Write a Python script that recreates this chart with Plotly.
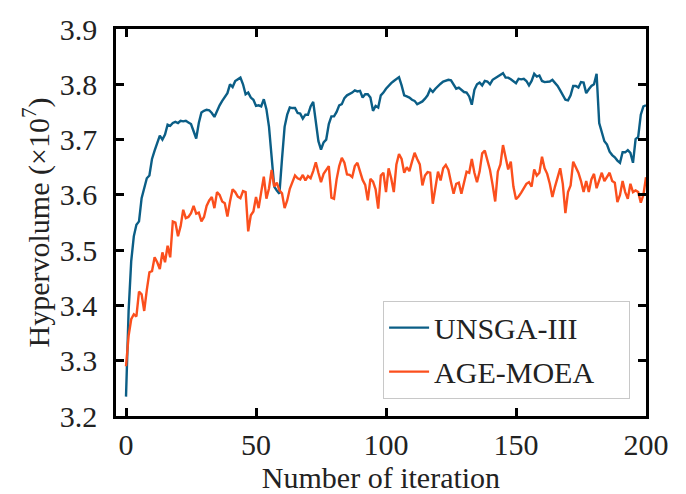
import plotly.graph_objects as go

iterations = list(range(201))

unsga3 = [
    3.235, 3.39, 3.48, 3.525, 3.546, 3.552, 3.594, 3.61, 3.63, 3.635,
    3.665, 3.68, 3.693, 3.707, 3.70, 3.709, 3.727, 3.725, 3.73, 3.732,
    3.73, 3.734, 3.733, 3.734, 3.731, 3.728, 3.715, 3.702, 3.73, 3.749,
    3.752, 3.754, 3.753, 3.748, 3.741, 3.752, 3.762, 3.770, 3.776, 3.784,
    3.800, 3.795, 3.806, 3.809, 3.812, 3.800, 3.782, 3.785, 3.776, 3.772,
    3.761, 3.762, 3.760, 3.773, 3.755, 3.723, 3.675, 3.615, 3.608, 3.602,
    3.665, 3.723, 3.745, 3.758, 3.757, 3.757, 3.748, 3.747, 3.738, 3.745,
    3.745, 3.760, 3.768, 3.735, 3.697, 3.682, 3.695, 3.700, 3.728, 3.742,
    3.742, 3.750, 3.762, 3.764, 3.775, 3.780, 3.782, 3.785, 3.789, 3.787,
    3.788, 3.776, 3.782, 3.782, 3.776, 3.752, 3.761, 3.758, 3.780, 3.785,
    3.792, 3.798, 3.802, 3.806, 3.810, 3.813, 3.798, 3.780, 3.778, 3.776,
    3.772, 3.770, 3.764, 3.767, 3.769, 3.774, 3.780, 3.791, 3.786, 3.792,
    3.797, 3.801, 3.805, 3.806, 3.808, 3.807, 3.800, 3.792, 3.794, 3.790,
    3.786, 3.785, 3.778, 3.763, 3.790, 3.800, 3.803, 3.798, 3.806, 3.805,
    3.800, 3.808, 3.811, 3.814, 3.816, 3.820, 3.812, 3.812, 3.809, 3.806,
    3.802, 3.810, 3.809, 3.810, 3.806, 3.798, 3.806, 3.819, 3.814, 3.816,
    3.806, 3.804, 3.805, 3.805, 3.808, 3.803, 3.797, 3.789, 3.780, 3.772,
    3.771, 3.780, 3.797, 3.797, 3.794, 3.804, 3.803, 3.784, 3.791, 3.797,
    3.800, 3.819, 3.730, 3.712, 3.697, 3.691, 3.678, 3.672, 3.668, 3.662,
    3.658, 3.677, 3.677, 3.681, 3.676, 3.658, 3.701, 3.705, 3.745, 3.760,
    3.762,
]

agemoea = [
    3.29, 3.345, 3.375, 3.384, 3.38, 3.425, 3.42, 3.39, 3.428, 3.46,
    3.462, 3.487, 3.478, 3.466, 3.496, 3.478, 3.508, 3.487, 3.552, 3.55,
    3.525, 3.543, 3.573, 3.558, 3.56, 3.567, 3.58, 3.566, 3.568, 3.552,
    3.56, 3.58, 3.59, 3.596, 3.576, 3.605, 3.600, 3.588, 3.585, 3.561,
    3.588, 3.610, 3.605, 3.597, 3.594, 3.607, 3.605, 3.534, 3.563, 3.570,
    3.596, 3.576, 3.605, 3.633, 3.593, 3.612, 3.645, 3.615, 3.622, 3.608,
    3.603, 3.576, 3.590, 3.611, 3.623, 3.635, 3.630, 3.628, 3.636, 3.626,
    3.634, 3.630, 3.643, 3.659, 3.640, 3.623, 3.638, 3.645, 3.652, 3.595,
    3.593, 3.628, 3.652, 3.667, 3.658, 3.637, 3.636, 3.632, 3.652, 3.658,
    3.642, 3.627, 3.618, 3.590, 3.629, 3.624, 3.610, 3.575, 3.635, 3.640,
    3.605, 3.648, 3.630, 3.605, 3.655, 3.674, 3.665, 3.640, 3.650, 3.643,
    3.660, 3.676, 3.665, 3.655, 3.617, 3.635, 3.641, 3.640, 3.584, 3.610,
    3.642, 3.626, 3.648, 3.654, 3.645, 3.623, 3.602, 3.620, 3.622, 3.602,
    3.625, 3.642, 3.640, 3.665, 3.640, 3.623, 3.642, 3.675, 3.680, 3.662,
    3.645, 3.618, 3.588, 3.642, 3.655, 3.690, 3.665, 3.646, 3.660, 3.615,
    3.592, 3.597, 3.604, 3.612, 3.620, 3.623, 3.615, 3.646, 3.635, 3.640,
    3.669, 3.648, 3.638, 3.620, 3.596, 3.615, 3.634, 3.648, 3.620, 3.567,
    3.605, 3.617, 3.660, 3.650, 3.640, 3.625, 3.605, 3.625, 3.605, 3.628,
    3.638, 3.612, 3.625, 3.640, 3.625, 3.632, 3.640, 3.625, 3.622, 3.587,
    3.600, 3.625, 3.605, 3.593, 3.620, 3.605, 3.608, 3.605, 3.586, 3.600,
    3.632,
]

series_names = ["UNSGA-III", "AGE-MOEA"]
x_ticks = [0, 50, 100, 150, 200]
y_ticks = [3.2, 3.3, 3.4, 3.5, 3.6, 3.7, 3.8, 3.9]

FONT = "Liberation Serif"
PAD = "\u00a0" * 4

fig = go.Figure()
fig.add_trace(go.Scatter(x=iterations, y=unsga3, mode="lines", name=series_names[0] + PAD,
                         line=dict(color="#0b5e86", width=2.4), legendgroup="a"))
fig.add_trace(go.Scatter(x=iterations, y=agemoea, mode="lines", name=series_names[1] + PAD,
                         line=dict(color="#fb4f1d", width=2.4), legendgroup="b"))

axis_common = dict(
    showline=True, linecolor="black", linewidth=2.5, mirror="ticks",
    ticks="inside", ticklen=8, tickwidth=2.5, tickcolor="black",
    showgrid=False, zeroline=False,
    tickfont=dict(family=FONT, size=30, color="#222"),
    title_font=dict(family=FONT, size=30, color="#222"),
)

fig.update_xaxes(range=[-3.85, 200], tickvals=x_ticks, ticktext=[str(v) for v in x_ticks],
                 title_text="Number of iteration", title_standoff=0,
                 ticklabelstandoff=0, **axis_common)
fig.update_yaxes(range=[3.2, 3.9], tickvals=y_ticks, ticktext=[f"{v:.1f}" for v in y_ticks],
                 title_text="Hypervolume (×10<sup>7</sup>)", title_standoff=2,
                 ticklabelstandoff=10, **axis_common)

fig.update_layout(
    width=686, height=494,
    margin=dict(l=116, r=40, t=20, b=78),
    plot_bgcolor="white", paper_bgcolor="white",
    font=dict(family=FONT, color="#222"),
    showlegend=True,
    legend=dict(x=0.97, y=0.045, xanchor="right", yanchor="bottom",
                bgcolor="rgba(255,255,255,0.9)", bordercolor="#c8c8c8", borderwidth=1,
                font=dict(family=FONT, size=30, color="#222"),
                tracegroupgap=2, itemwidth=40),
)

fig.write_html("out.html")
